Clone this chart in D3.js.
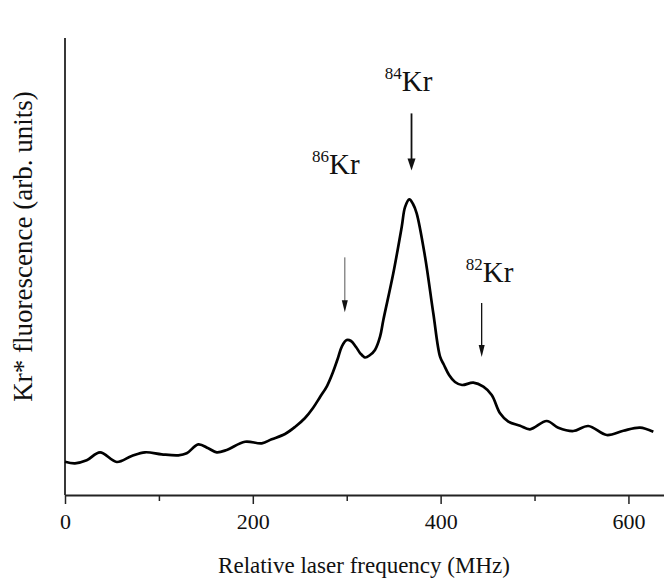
<!DOCTYPE html>
<html>
<head>
<meta charset="utf-8">
<script src="https://cdn.jsdelivr.net/npm/d3@7"></script>
<style>
  body { margin: 0; background: #fff; }
  svg { display: block; }
</style>
</head>
<body>
<div id="chart"></div>
<script>
// Spectrum: laser frequency (MHz) and fluorescence (arb. units)
const freq = [0, 10.6, 23.1, 37.3, 55.1, 71.0, 85.2, 103, 120.7, 129.6, 142, 152.6, 161.6, 172.2,
	191.7, 209.5, 220.1, 234.3, 244.9, 255.6, 264.1, 271.6, 279.0, 285.4, 290.7, 295.0, 300,
	304.6, 309.9, 314.2, 319.5, 324.8, 330.1, 335.5, 339, 349.6, 358.6, 362.1, 366.7, 370.6,
	374.5, 383.4, 392.2, 399.4, 403.6, 409, 415.3, 422.8, 434.8, 445.5, 454.4, 463.3, 472.1,
	484.6, 495.2, 513, 525.3, 541.3, 557.3, 576.9, 594.6, 612.4, 626.5];
const signal = [7.29, 6.94, 7.59, 9.34, 7.22, 8.53, 9.34, 8.91, 8.69, 9.12, 11.09, 10.22, 9.34, 9.85,
	11.66, 11.31, 12.19, 13.35, 14.88, 16.85, 19.04, 21.44, 23.85, 26.91, 29.98, 32.6, 33.92,
	33.7, 32.39, 31.07, 30.09, 30.63, 31.73, 34.64, 38.29, 48.51, 58.71, 63.0, 64.7, 63.68,
	61.64, 52.14, 39.76, 30.26, 28.45, 26.26, 24.73, 24.07, 24.57, 23.7, 21.88, 17.88, 16.04,
	15.16, 14.38, 16.19, 14.73, 14.0, 15.1, 13.13, 14.07, 14.73, 13.85];

// Isotope markers
const isotopes = ["86", "84", "82"];
const isotopeFreq = [298, 369, 443.7];

const majorTicks = [0, 200, 400, 600];
const minorTicks = [100, 300, 500];

const serif = "'Liberation Serif', 'Times New Roman', serif";

const margin = {top: 38, right: 0, bottom: 84, left: 65},
	  width = 664 - margin.left - margin.right,
	  height = 579 - margin.top - margin.bottom;

const svg = d3.select("#chart")
	.append("svg")
	.attr("width", 664)
	.attr("height", 579)
	.append("g")
	.attr("transform", "translate(" + margin.left + "," + margin.top + ")");

const xScale = d3.scaleLinear().domain([0, 640]).range([0, 601]);
const yScale = d3.scaleLinear().domain([0, 100]).range([height, 0]);

// x axis: labelled major ticks plus short minor ticks
svg.append("g")
	.attr("class", "x axis")
	.attr("transform", "translate(0," + height + ")")
	.call(d3.axisBottom(xScale).tickValues(majorTicks).tickSize(9).tickPadding(9).tickSizeOuter(0))
	.call(g => g.select(".domain").attr("stroke", "#222").attr("stroke-width", 1.8))
	.call(g => g.selectAll(".tick line").attr("stroke", "#222").attr("stroke-width", 1.5))
	.call(g => g.selectAll(".tick text")
		.style("font-family", serif)
		.attr("font-size", 22)
		.attr("fill", "#111"));

svg.append("g")
	.attr("transform", "translate(0," + height + ")")
	.call(d3.axisBottom(xScale).tickValues(minorTicks).tickSize(6).tickFormat(""))
	.call(g => g.select(".domain").remove())
	.call(g => g.selectAll(".tick line").attr("stroke", "#222").attr("stroke-width", 1.5));

// y axis: plain line, no ticks
svg.append("line")
	.attr("x1", 0).attr("x2", 0)
	.attr("y1", 0).attr("y2", height)
	.attr("stroke", "#222")
	.attr("stroke-width", 1.8);

// Axis titles
svg.append("text")
	.attr("x", 299)
	.attr("y", height + 78)
	.attr("text-anchor", "middle")
	.attr("font-size", 23)
	.attr("fill", "#111")
	.style("font-family", serif)
	.text("Relative laser frequency (MHz)");

svg.append("text")
	.attr("transform", "translate(-33," + (height / 2 - 20) + ") rotate(-90)")
	.attr("text-anchor", "middle")
	.attr("font-size", 27)
	.attr("fill", "#111")
	.style("font-family", serif)
	.text("Kr* fluorescence (arb. units)");

// The spectrum
const line = d3.line()
	.x((d, i) => xScale(freq[i]))
	.y(d => yScale(d))
	.curve(d3.curveCatmullRom.alpha(0.5));

svg.append("path")
	.attr("d", line(signal))
	.attr("fill", "none")
	.attr("stroke", "#000")
	.attr("stroke-width", 2.7)
	.attr("stroke-linejoin", "round");

// Arrows and isotope labels
const arrowTop = [52, 83.5, 42];
const arrowLen = [55, 57, 54];
const arrowWidth = [1, 1.8, 1.3];
const labelBase = [136, 53, 244];
const labelShift = [-9, -3, 8];

isotopes.forEach((iso, i) => {
	const x = xScale(isotopeFreq[i]);
	const y0 = yScale(arrowTop[i]);
	const y1 = y0 + arrowLen[i];
	svg.append("line")
		.attr("x1", x).attr("x2", x)
		.attr("y1", y0).attr("y2", y1 - 6)
		.attr("stroke", i === 0 ? "#555" : "#111")
		.attr("stroke-width", arrowWidth[i]);
	const hw = i === 1 ? 4 : 3;
	svg.append("path")
		.attr("d", "M" + (x - hw) + "," + (y1 - 12) + "L" + (x + hw) + "," + (y1 - 12) + "L" + x + "," + y1 + "Z")
		.attr("fill", "#111");

	const lbl = svg.append("text")
		.attr("x", x + labelShift[i])
		.attr("y", labelBase[i])
		.attr("text-anchor", "middle")
		.attr("font-size", 29)
		.attr("fill", "#111")
		.style("font-family", serif);
	lbl.append("tspan")
		.attr("font-size", 17)
		.attr("dy", -12)
		.text(iso);
	lbl.append("tspan")
		.attr("dy", 12)
		.text("Kr");
});
</script>
</body>
</html>
